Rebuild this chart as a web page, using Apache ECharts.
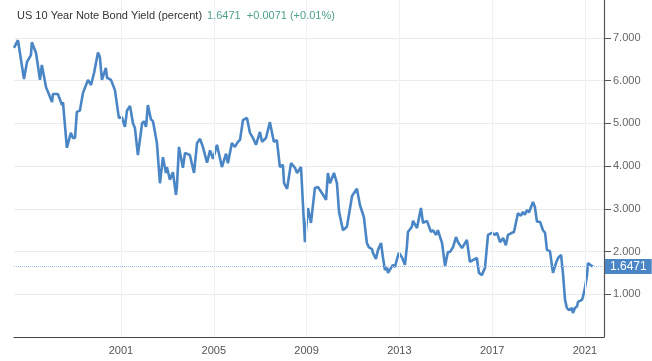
<!DOCTYPE html>
<html>
<head>
<meta charset="utf-8">
<script src="https://cdn.jsdelivr.net/npm/echarts@6/dist/echarts.min.js"></script>
<style>html,body{margin:0;padding:0;background:#fff}#c{width:652px;height:361px}</style>
</head>
<body>
<div id="c"></div>
<script>
// Decimal years
const years = [1996.39,1996.56,1996.82,1996.95,1997.12,1997.16,1997.34,1997.51,1997.59,1997.77,1997.85,1998.03,1998.07,1998.28,1998.46,1998.50,1998.67,1998.84,1998.93,1999.02,1999.10,1999.23,1999.36,1999.58,1999.71,1999.84,2000.01,2000.09,2000.18,2000.35,2000.40,2000.57,2000.74,2000.91,2001.04,2001.17,2001.26,2001.39,2001.47,2001.52,2001.60,2001.73,2001.91,2001.99,2002.08,2002.16,2002.29,2002.38,2002.55,2002.68,2002.81,2002.94,2002.98,2003.11,2003.24,2003.37,2003.41,2003.50,2003.67,2003.76,2003.97,2004.15,2004.28,2004.41,2004.53,2004.71,2004.84,2004.97,2005.14,2005.35,2005.53,2005.61,2005.78,2005.91,2006.04,2006.13,2006.26,2006.43,2006.56,2006.69,2006.82,2006.99,2007.08,2007.25,2007.42,2007.59,2007.72,2007.85,2007.98,2008.03,2008.16,2008.33,2008.50,2008.59,2008.76,2008.93,2009.06,2009.19,2009.36,2009.49,2009.71,2009.84,2009.92,2010.01,2010.18,2010.31,2010.40,2010.57,2010.74,2010.96,2011.17,2011.30,2011.47,2011.60,2011.69,2011.82,2011.86,2011.99,2012.08,2012.21,2012.29,2012.38,2012.47,2012.51,2012.64,2012.72,2012.81,2012.90,2012.98,2013.11,2013.16,2013.24,2013.33,2013.37,2013.54,2013.59,2013.76,2013.93,2014.02,2014.19,2014.36,2014.45,2014.58,2014.66,2014.84,2014.97,2015.09,2015.18,2015.31,2015.44,2015.53,2015.70,2015.91,2016.04,2016.17,2016.34,2016.43,2016.56,2016.69,2016.82,2016.99,2017.12,2017.21,2017.34,2017.47,2017.59,2017.68,2017.85,2017.94,2018.07,2018.11,2018.24,2018.33,2018.41,2018.50,2018.59,2018.76,2018.84,2018.93,2019.06,2019.19,2019.28,2019.36,2019.49,2019.62,2019.75,2019.84,2019.97,2020.05,2020.14,2020.22,2020.31,2020.44,2020.48,2020.57,2020.66,2020.70,2020.87,2020.91,2021.00,2021.09,2021.13,2021.22,2021.30,2021.34];
const yields = [6.77,6.95,6.04,6.44,6.60,6.90,6.65,6.02,6.37,5.85,5.85,5.50,5.69,5.69,5.43,5.50,4.43,4.78,4.66,4.66,5.27,5.30,5.71,6.02,5.90,6.18,6.66,6.56,6.02,6.30,6.07,6.02,5.78,5.13,5.15,4.92,5.30,5.41,5.41,5.00,4.90,4.26,5.00,5.05,4.92,5.43,5.10,5.05,4.54,3.60,4.21,3.84,3.98,3.68,3.86,3.33,3.50,4.45,3.96,4.31,4.26,3.84,4.54,4.64,4.45,4.08,4.37,4.17,4.50,3.98,4.29,4.07,4.54,4.45,4.57,4.61,5.08,5.13,4.78,4.66,4.50,4.80,4.57,4.66,5.03,4.57,4.61,3.98,4.03,3.60,3.47,4.07,3.96,3.84,3.98,2.22,3.02,2.67,3.49,3.51,3.33,3.21,3.84,3.60,3.84,3.60,2.93,2.50,2.58,3.30,3.47,3.09,2.81,2.20,2.10,2.06,1.97,1.83,2.04,2.20,1.87,1.57,1.62,1.50,1.62,1.69,1.64,1.83,1.97,1.87,1.80,1.69,2.15,2.46,2.58,2.72,2.55,3.02,2.67,2.72,2.46,2.50,2.39,2.50,2.20,1.66,1.99,1.99,2.10,2.34,2.22,2.08,2.27,1.76,1.80,1.85,1.50,1.45,1.62,2.39,2.44,2.39,2.44,2.22,2.32,2.15,2.39,2.44,2.46,2.79,2.90,2.84,2.93,2.86,2.97,2.92,3.16,3.05,2.70,2.70,2.50,2.44,2.04,2.01,1.50,1.73,1.85,1.92,1.50,0.87,0.68,0.63,0.68,0.56,0.68,0.72,0.82,0.87,0.94,1.15,1.45,1.73,1.69,1.66,1.6471];
const xTickYears = [2001, 2005, 2009, 2013, 2017, 2021];
const yTicks = [0, 1, 2, 3, 4, 5, 6, 7];
const lastValue = 1.6471;
const titleMain = 'US 10 Year Note Bond Yield (percent)';
const titleQuote = '1.6471  +0.0071 (+0.01%)';

const chart = echarts.init(document.getElementById('c'), null, {renderer: 'canvas'});
const font = '"Liberation Sans", Arial, Helvetica, sans-serif';
chart.setOption({
  animation: false,
  textStyle: {fontFamily: font},
  title: {
    left: 12, top: 2,
    text: '{a|' + titleMain + '} {b|' + titleQuote + '}',
    textStyle: {
      fontWeight: 'normal',
      rich: {
        a: {fontSize: 11, color: '#333', fontWeight: 'normal', fontFamily: font},
        b: {fontSize: 11, color: '#4fa08d', fontWeight: 'normal', fontFamily: font}
      }
    }
  },
  grid: {left: 14, right: 48, top: 0, bottom: 24},
  xAxis: {
    type: 'value', min: 1996.39, max: 2021.82,
    axisLine: {show: true, lineStyle: {color: '#444', width: 1.2}},
    axisTick: {show: false},
    splitLine: {show: false},
    axisLabel: {customValues: xTickYears, color: '#555', fontSize: 11, margin: 8, formatter: v => String(Math.round(v))}
  },
  yAxis: {
    type: 'value', position: 'right', min: 0, max: 7.89, interval: 1,
    axisLine: {show: true, lineStyle: {color: '#555', width: 1.2}},
    axisTick: {show: true, length: 7, lineStyle: {color: '#555'}, customValues: yTicks.slice(1)},
    axisLabel: {customValues: yTicks.slice(1), color: '#666', fontSize: 11, margin: 9, formatter: v => v.toFixed(3)},
    splitLine: {show: true, lineStyle: {color: '#ebebeb'}}
  },
  series: [
    {
      type: 'line', data: [], z: 1, silent: true,
      markLine: {
        silent: true, symbol: 'none', animation: false,
        lineStyle: {color: '#edf2f7', width: 1, type: 'solid'},
        label: {show: false},
        data: xTickYears.map(y => ({xAxis: y}))
      }
    },
    {
      type: 'line', z: 3,
      data: years.map((y, i) => [y, yields[i]]),
      showSymbol: false, smooth: false,
      lineStyle: {color: '#4a86c5', width: 2.6},
      markLine: {
        silent: true, symbol: 'none', animation: false,
        lineStyle: {color: '#9fc3ea', width: 1, type: 'dotted'},
        label: {
          show: true, position: 'end', distance: 1,
          formatter: () => lastValue.toFixed(4),
          backgroundColor: '#4a86c5', color: '#fff', fontSize: 12,
          padding: [2, 5, 1, 5], fontFamily: font
        },
        data: [{yAxis: lastValue}]
      }
    }
  ]
});
</script>
</body>
</html>
